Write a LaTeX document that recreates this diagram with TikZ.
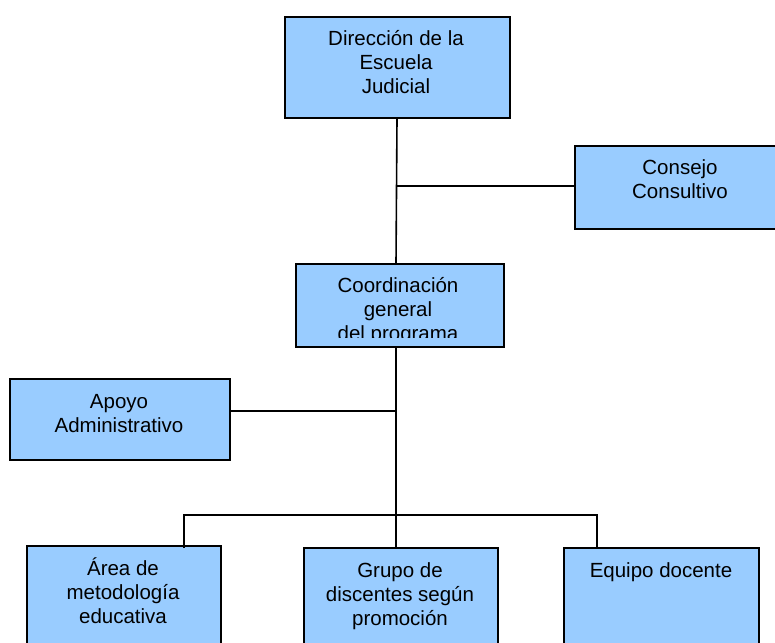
\documentclass[tikz,border=0pt]{standalone}
\usepackage{fontspec}
\setmainfont{Liberation Sans}
\definecolor{boxblue}{HTML}{99CCFF}
\newcommand{\fs}{\rule{0pt}{19pt}}
\begin{document}
\begin{tikzpicture}[x=1pt,y=-1pt,
  box/.style={draw=black, line width=1.6pt, fill=boxblue, inner sep=0pt, anchor=north west},
  lbl/.style={align=center, inner sep=0pt, anchor=north, font=\fontsize{20.5}{24}\selectfont},
  conn/.style={draw=black, line width=1.6pt}]
\useasboundingbox (0,0) rectangle (775,642);
% boxes
\node[box, minimum width=225pt, minimum height=101pt] (dir) at (284,16) {};
\node[box, minimum width=212pt, minimum height=83pt] (con) at (574,145) {};
\node[box, minimum width=208pt, minimum height=83pt] (coo) at (295,263) {};
\node[box, minimum width=220pt, minimum height=81pt] (apo) at (9,378) {};
\node[box, minimum width=194pt, minimum height=120pt] (are) at (26,545) {};
\node[box, minimum width=194pt, minimum height=120pt] (gru) at (303,547) {};
\node[box, minimum width=195pt, minimum height=120pt] (equ) at (563,547) {};
% labels
\node[lbl] (dirT) at (396,26) {\fs Dirección de la\\Escuela\\Judicial};
\node[lbl] (conT) at (680,155) {\fs Consejo\\Consultivo};
\begin{scope}
\clip (295,263) rectangle (503,337.5);
\node[lbl] (cooT) at (398,273) {\fs Coordinación\\general\\del programa};
\end{scope}
\node[lbl] (apoT) at (119,389) {\fs Apoyo\\Administrativo};
\node[lbl] (areT) at (123,556) {\fs Área de\\metodología\\educativa};
\node[lbl] (gruT) at (400,558) {\fs Grupo de\\discentes según\\promoción};
\node[lbl] (equT) at (661,558) {\fs Equipo docente};
% connector coordinates
\coordinate (a1) at (397,0);
\coordinate (a2) at (396,0);
\coordinate (j1) at (396.7,186);
\coordinate (j2) at (396,411);
\coordinate (bl) at (184,515);
\coordinate (br) at (597,515);
% connectors
\draw[conn] (dir.south -| a1) -- (coo.north -| a2);
\draw[conn] (j1) -- (con.west |- j1);
\draw[conn] (coo.south -| a2) -- (gru.north -| a2);
\draw[conn] (apo.east |- j2) -- (j2);
\draw[conn] ([yshift=-3pt]are.north -| bl) -- (bl) -- (br) -- ([yshift=-2pt]equ.north -| br);
\end{tikzpicture}
\end{document}
